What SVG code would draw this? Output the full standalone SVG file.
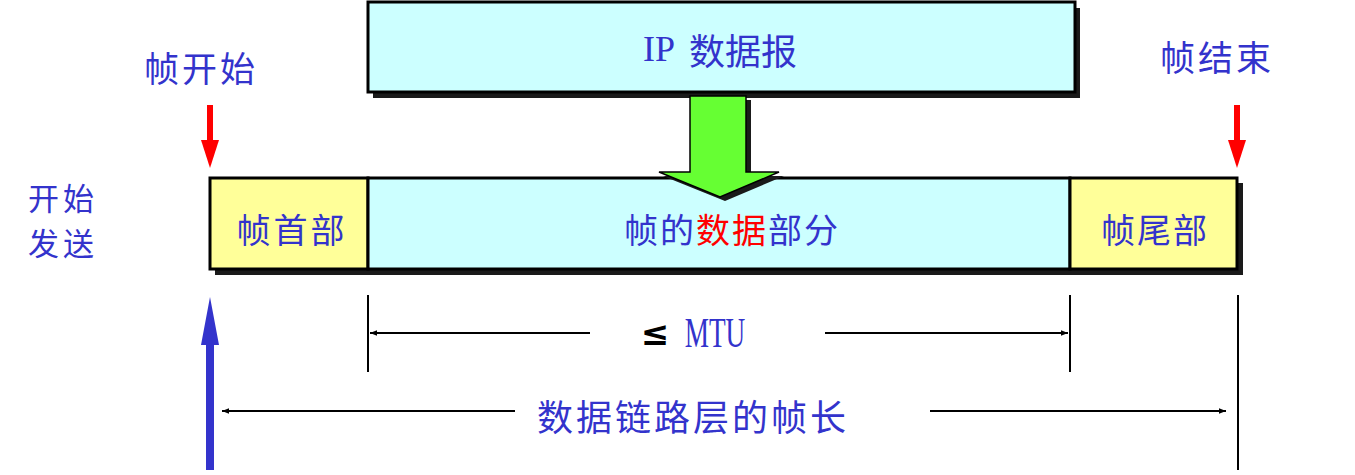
<svg xmlns="http://www.w3.org/2000/svg" width="1355" height="475" viewBox="0 0 1355 475">
<style>
.t{font-family:"Noto Sans CJK SC","Noto Sans",sans-serif;fill:#3333CC;text-anchor:middle;dominant-baseline:central}
.s{font-family:"Liberation Serif","Noto Sans CJK SC",serif;fill:#3333CC;text-anchor:middle;dominant-baseline:central}
.box{stroke:#000;stroke-width:3}
.sh{fill:#1a1a1a}
.dim{stroke:#000;stroke-width:2;fill:none}
</style>
<defs>
<marker id="ah" viewBox="0 0 10 10" refX="10" refY="5" markerWidth="7" markerHeight="7" orient="auto-start-reverse" markerUnits="userSpaceOnUse">
<path d="M0,1 L10,5 L0,9 Z" fill="#000"/>
</marker>
</defs>
<rect width="1355" height="475" fill="#fff"/>

<g id="ip-datagram">
<rect class="sh" x="373" y="8" width="707" height="90"/>
<rect class="box" x="368" y="2" width="707" height="90" fill="#CCFFFF"/>
<text class="s" x="720" y="49" font-size="36"><tspan>IP</tspan><tspan font-family="Noto Sans CJK SC" dx="14">数据报</tspan></text>
</g>

<g id="frame">
<rect class="sh" x="215" y="183" width="1028" height="92"/>
<rect class="box" x="210" y="178" width="158" height="91" fill="#FFFF99"/>
<rect class="box" x="368" y="178" width="702" height="91" fill="#CCFFFF"/>
<rect class="box" x="1070" y="178" width="167" height="91" fill="#FFFF99"/>
</g>

<g id="green-arrow">
<path d="M695,100 L751,100 L751,176 L784,176 L725,201 L663,176 L695,176 Z" class="sh"/>
<path d="M690,96 L746,96 L746,172 L779,172 L720,197 L659,172 L690,172 Z" fill="#66FF33" stroke="#000" stroke-width="1.5"/>
</g>

<g id="header"><text class="t" x="292" y="228" font-size="34" letter-spacing="3">帧首部</text></g>
<g id="payload"><text class="t" x="732" y="228" font-size="34" letter-spacing="2">帧的<tspan fill="#FF0000">数据</tspan>部分</text></g>
<g id="trailer"><text class="t" x="1155" y="228" font-size="34" letter-spacing="2">帧尾部</text></g>

<g id="frame-start">
<text class="t" x="201" y="66" font-size="35" letter-spacing="3">帧开始</text>
<rect x="207" y="105" width="6" height="36" fill="#FF0000"/>
<path d="M201,140 L219,140 L210,168 Z" fill="#FF0000"/>
</g>
<g id="frame-end">
<text class="t" x="1217" y="55" font-size="35" letter-spacing="3">帧结束</text>
<rect x="1234" y="105" width="6" height="36" fill="#FF0000"/>
<path d="M1228,140 L1246,140 L1237,168 Z" fill="#FF0000"/>
</g>
<g id="start-send">
<text class="t" x="63" y="196" font-size="31" letter-spacing="4">开始</text>
<text class="t" x="63" y="241" font-size="31" letter-spacing="4">发送</text>
<rect x="206" y="340" width="8" height="130" fill="#3333CC"/>
<path d="M201,345 L219,345 L210,297 Z" fill="#3333CC"/>
</g>

<g id="connectors">
<line class="dim" x1="368" y1="295" x2="368" y2="372"/>
<line class="dim" x1="1070" y1="295" x2="1070" y2="372"/>
<line class="dim" x1="1238" y1="295" x2="1238" y2="470"/>
<line class="dim" x1="590" y1="333" x2="370" y2="333" marker-end="url(#ah)"/>
<line class="dim" x1="825" y1="333" x2="1068" y2="333" marker-end="url(#ah)"/>
<line class="dim" x1="515" y1="411" x2="222" y2="411" marker-end="url(#ah)"/>
<line class="dim" x1="930" y1="411" x2="1226" y2="411" marker-end="url(#ah)"/>
</g>
<g id="mtu-label">
<text x="655" y="333" font-family="DejaVu Sans,sans-serif" font-weight="bold" font-size="34" text-anchor="middle" dominant-baseline="central" fill="#000">≤</text>
<text class="s" x="715" y="333" font-size="42" transform="translate(715 333) scale(0.65 1) translate(-715 -333)">MTU</text>
</g>
<g id="frame-length-label">
<text class="t" x="693" y="415" font-size="36" letter-spacing="3">数据链路层的帧长</text>
</g>
</svg>
